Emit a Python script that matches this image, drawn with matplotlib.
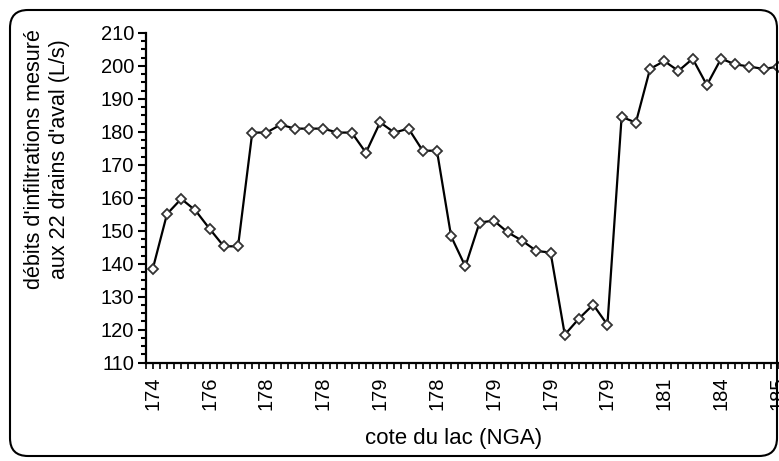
import matplotlib
matplotlib.use("Agg")
import matplotlib.pyplot as plt
from matplotlib.patches import FancyBboxPatch
from matplotlib.transforms import IdentityTransform
from matplotlib.ticker import MultipleLocator, FixedLocator

plt.rcParams['font.family'] = ['Liberation Sans', 'DejaVu Sans']

# data
flows = [138.5, 155.1, 159.7, 156.2, 150.6, 145.3, 145.3, 179.8, 179.8, 182.2,
         181.0, 181.0, 181.0, 179.8, 179.8, 173.7, 182.9, 179.8, 181.0, 174.3,
         174.3, 148.3, 139.2, 152.5, 153.1, 149.5, 147.0, 143.9, 143.4, 118.5,
         123.4, 127.6, 121.5, 184.6, 182.8, 199.1, 201.5, 198.5, 202.2, 194.2,
         202.2, 200.5, 199.8, 199.1, 199.8]
tick_labels = ['174', '176', '178', '178', '179', '178', '179', '179', '179',
               '181', '184', '185']
label_step = 4
y_title = "débits d'infiltrations mesuré\naux 22 drains d'aval (L/s)"
x_title = "cote du lac (NGA)"

W, H = 779, 461
fig = plt.figure(figsize=(W / 100, H / 100), dpi=100)
ax = fig.add_axes([145.7 / W, (H - 362.7) / H, (785 - 145.7) / W, (362.7 - 33) / H])

idx = list(range(len(flows)))
ax.plot(idx, flows, color='black', lw=1.6, marker='D', markersize=5.5,
        markerfacecolor='white', markeredgecolor='#333333', markeredgewidth=1.3,
        zorder=3, clip_on=True)

ax.set_xlim(-0.5, len(flows) - 0.5)
ax.set_ylim(110, 210)

ax.yaxis.set_major_locator(MultipleLocator(10))
ax.yaxis.set_minor_locator(MultipleLocator(2.5))
ax.xaxis.set_major_locator(FixedLocator(idx[::label_step]))
ax.set_xticklabels(tick_labels, rotation=90)
ax.xaxis.set_minor_locator(MultipleLocator(0.5))

for s in ['top', 'right']:
    ax.spines[s].set_visible(False)
for s in ['left', 'bottom']:
    ax.spines[s].set_linewidth(1.6)
    ax.spines[s].set_color('black')

ax.tick_params(axis='y', which='major', direction='out', length=5.5, width=1.5,
               labelsize=14.5, pad=3)
ax.tick_params(axis='y', which='minor', direction='out', length=3.5, width=1.5)
ax.tick_params(axis='x', which='major', direction='out', length=4, width=1.2,
               labelsize=14.5, pad=6)
ax.tick_params(axis='x', which='minor', direction='out', length=4, width=1.2)

fig.text(47 / W, 1 - 159 / H, y_title, rotation=90, ha='center', va='center',
         fontsize=15.5, linespacing=1.3, multialignment='center')
fig.text(454 / W, 1 - 438 / H, x_title, ha='center', va='center', fontsize=16)

border = FancyBboxPatch((10, 5), 767, 446, boxstyle="round,pad=0,rounding_size=18",
                        transform=IdentityTransform(), fill=False, lw=1.5,
                        edgecolor='black')
fig.patches.append(border)

fig.savefig("out.png", dpi=100)
